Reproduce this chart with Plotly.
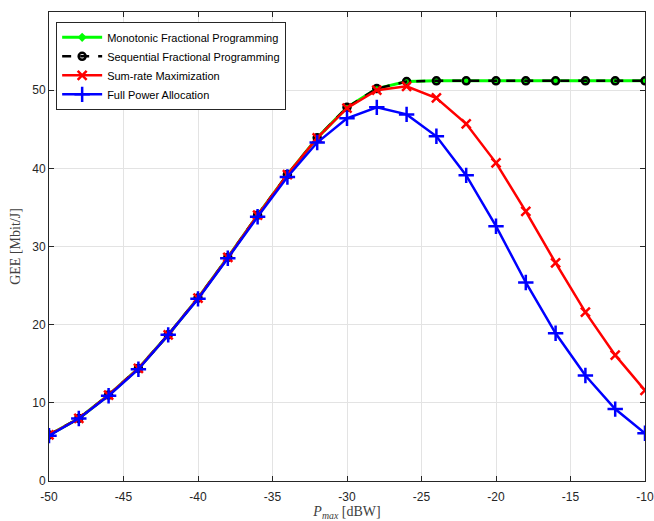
import plotly.graph_objects as go

x = [-50, -48, -46, -44, -42, -40, -38, -36, -34, -32, -30, -28, -26, -24, -22, -20, -18, -16, -14, -12, -10]
mono = [5.9, 8.0, 11.0, 14.4, 18.7, 23.4, 28.6, 34.0, 39.2, 43.9, 47.8, 50.2, 51.1, 51.2, 51.2, 51.2, 51.2, 51.2, 51.2, 51.2, 51.2]
seq = [5.9, 8.0, 11.0, 14.4, 18.7, 23.4, 28.6, 34.0, 39.2, 43.9, 47.8, 50.2, 51.1, 51.2, 51.2, 51.2, 51.2, 51.2, 51.2, 51.2, 51.2]
sumrate = [5.9, 8.0, 11.0, 14.4, 18.7, 23.4, 28.6, 34.0, 39.2, 43.9, 47.7, 50.0, 50.5, 49.0, 45.7, 40.7, 34.5, 27.9, 21.6, 16.1, 11.6]
fullpow = [5.8, 8.0, 10.9, 14.3, 18.7, 23.3, 28.5, 33.8, 38.9, 43.3, 46.4, 47.8, 46.9, 44.1, 39.1, 32.6, 25.4, 18.9, 13.5, 9.2, 6.1]

xticks = [-50, -45, -40, -35, -30, -25, -20, -15, -10]
xticklabels = ["-50", "-45", "-40", "-35", "-30", "-25", "-20", "-15", "-10"]
yticks = [0, 10, 20, 30, 40, 50]
yticklabels = ["0", "10", "20", "30", "40", "50"]

names = ["Monotonic Fractional Programming", "Sequential Fractional Programming",
         "Sum-rate Maximization", "Full Power Allocation"]

fig = go.Figure()
fig.add_trace(go.Scatter(x=x, y=mono, name=names[0], mode="lines+markers",
                         line=dict(color="#00ff00", width=3),
                         marker=dict(symbol="diamond", size=7, color="#00ff00")))
fig.add_trace(go.Scatter(x=x, y=seq, name=names[1], mode="lines+markers",
                         line=dict(color="black", width=2.5, dash="dash"),
                         marker=dict(symbol="circle-open", size=7, color="black", line=dict(width=2.5))))
fig.add_trace(go.Scatter(x=x, y=sumrate, name=names[2], mode="lines+markers",
                         line=dict(color="#ff0000", width=2.5),
                         marker=dict(symbol="x-thin-open", size=9, color="#ff0000", line=dict(width=2.5, color="#ff0000"))))
fig.add_trace(go.Scatter(x=x, y=fullpow, name=names[3], mode="lines+markers",
                         line=dict(color="#0000ff", width=2.5),
                         marker=dict(symbol="cross-thin-open", size=11, color="#0000ff", line=dict(width=2.5, color="#0000ff"))))

axis_common = dict(showline=True, linecolor="#262626", linewidth=1, mirror="ticks",
                   ticks="inside", ticklen=5, tickcolor="#262626",
                   showgrid=True, gridcolor="#e3e3e3", gridwidth=1, zeroline=False,
                   ticklabeloverflow="allow", automargin=False,
                   tickfont=dict(family="Liberation Sans, Arial", size=12, color="#262626"))

fig.update_xaxes(range=[-50, -10], tickvals=xticks, ticktext=xticklabels,
                 ticklabelstandoff=5,
                 title=dict(text="<i>P</i><sub><i>max</i></sub> [dBW]",
                            font=dict(family="Liberation Serif, Times New Roman", size=14, color="#404040"),
                            standoff=2),
                 **axis_common)
fig.update_yaxes(range=[0, 60], tickvals=yticks, ticktext=yticklabels,
                 title=dict(text="GEE [Mbit/J]",
                            font=dict(family="Liberation Serif, Times New Roman", size=14, color="#404040"),
                            standoff=8),
                 **axis_common)

fig.update_layout(
    width=654, height=521,
    margin=dict(l=49, r=9, t=12, b=40),
    plot_bgcolor="white", paper_bgcolor="white",
    legend=dict(x=0.012, y=0.979, xanchor="left", yanchor="top",
                bgcolor="white", bordercolor="#262626", borderwidth=1,
                font=dict(family="Liberation Sans, Arial", size=11, color="black"),
                tracegroupgap=0, itemwidth=40),
    showlegend=True,
)

fig.write_html("out.html")
